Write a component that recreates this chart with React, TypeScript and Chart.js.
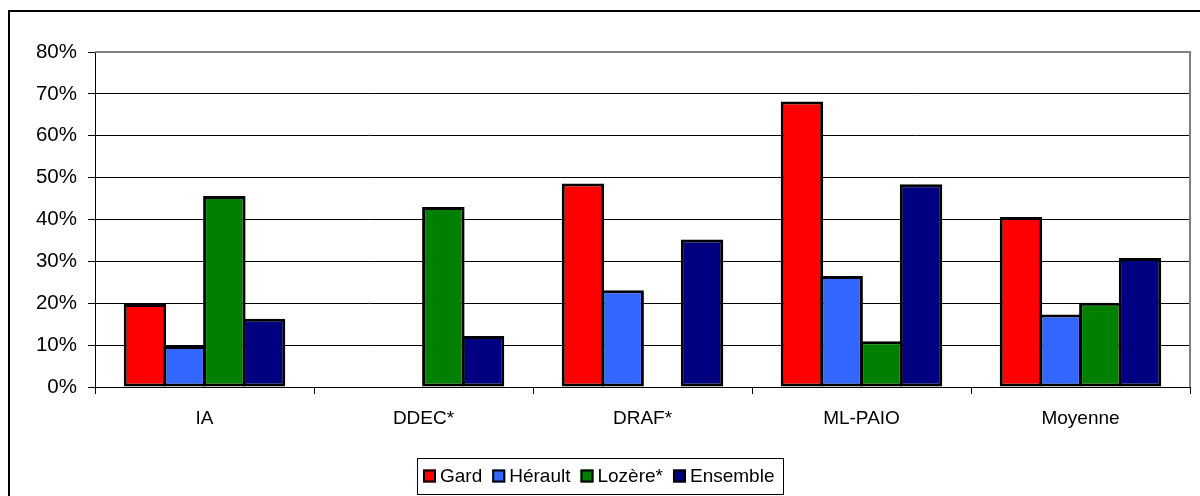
import React, { useEffect, useRef } from "react";
import { Chart, registerables } from "chart.js";

Chart.register(...registerables);

const categories = ["IA", "DDEC*", "DRAF*", "ML-PAIO", "Moyenne"];
const seriesNames = ["Gard", "Hérault", "Lozère*", "Ensemble"];
const gard = [19.8, null, 48.6, 68.2, 40.6];
const herault = [9.8, null, 23.1, 26.5, 17.3];
const lozere = [45.6, 43.0, null, 10.9, 20.1];
const ensemble = [16.3, 12.2, 35.2, 48.4, 30.8];
const seriesColors = ["#FF0000", "#3366FF", "#008000", "#000080"];
const yTicks = [0, 10, 20, 30, 40, 50, 60, 70, 80];

const FONT = '"Liberation Sans", Arial, sans-serif';

const framePlugin = {
  id: "frame",
  beforeDraw(chart: any) {
    const ctx = chart.ctx;
    ctx.save();
    ctx.fillStyle = "#fff";
    ctx.fillRect(0, 0, chart.width, chart.height);
    ctx.strokeStyle = "#000";
    ctx.lineWidth = 2;
    ctx.strokeRect(9, 11, 3000, 3000);
    ctx.restore();
  },
  afterDraw(chart: any) {
    const ctx = chart.ctx;
    const a = chart.chartArea;
    ctx.save();
    ctx.strokeStyle = "#808080";
    ctx.lineWidth = 2;
    ctx.beginPath();
    ctx.moveTo(a.left, a.top);
    ctx.lineTo(a.right, a.top);
    ctx.lineTo(a.right, a.bottom);
    ctx.stroke();

    ctx.font = `19px ${FONT}`;
    const sw = 13, gap = 4, itemGap = 10, padL = 6, padR = 9;
    const widths = seriesNames.map((n) => ctx.measureText(n).width);
    let total = padL + padR + itemGap * (seriesNames.length - 1);
    widths.forEach((w) => (total += sw + gap + w));
    const top = 458, h = 36;
    const left = Math.round(chart.width / 2 - total / 2);
    ctx.strokeStyle = "#000";
    ctx.lineWidth = 1;
    ctx.strokeRect(left + 0.5, top + 0.5, Math.round(total), h);
    let x = left + padL;
    const cy = top + h / 2;
    ctx.textBaseline = "middle";
    ctx.textAlign = "left";
    seriesNames.forEach((n, i) => {
      ctx.fillStyle = seriesColors[i];
      ctx.fillRect(x, cy - 6.5, sw, sw);
      ctx.strokeStyle = "#000";
      ctx.lineWidth = 2;
      ctx.strokeRect(x + 1, cy - 5.5, sw - 2, sw - 2);
      ctx.fillStyle = "#000";
      ctx.fillText(n, x + sw + gap, cy + 1);
      x += sw + gap + widths[i] + itemGap;
    });
    ctx.restore();
  },
};

export default function App() {
  const ref = useRef<HTMLCanvasElement>(null);
  useEffect(() => {
    if (!ref.current) return;
    const data = [gard, herault, lozere, ensemble];
    const chart = new Chart(ref.current, {
      type: "bar",
      data: {
        labels: categories,
        datasets: seriesNames.map((name, i) => ({
          label: name,
          data: data[i] as any,
          backgroundColor: seriesColors[i],
          borderColor: "#000",
          borderWidth: 3,
          borderSkipped: false,
          categoryPercentage: 0.725,
          barPercentage: 1.07,
        })),
      },
      options: {
        responsive: false,
        animation: false,
        devicePixelRatio: 1,
        layout: { padding: { top: 52, right: 10, left: 0, bottom: 0 } },
        plugins: {
          legend: { display: false },
          tooltip: { enabled: false },
        },
        scales: {
          x: {
            afterFit: (s: any) => {
              s.height = 109;
            },
            grid: {
              display: true,
              drawOnChartArea: false,
              drawTicks: true,
              tickLength: 7,
              offset: true,
              color: "#000",
            },
            border: { display: true, color: "#000", width: 1 },
            ticks: {
              color: "#000",
              font: { family: FONT, size: 19 },
              padding: 13,
              maxRotation: 0,
            },
          },
          y: {
            min: 0,
            max: 80,
            afterFit: (s: any) => {
              s.width = 95;
            },
            afterBuildTicks: (s: any) => {
              s.ticks = yTicks.map((v) => ({ value: v }));
            },
            grid: {
              color: "#000",
              lineWidth: 1,
              tickLength: 7,
              drawTicks: true,
            },
            border: { display: true, color: "#000", width: 1 },
            ticks: {
              color: "#000",
              font: { family: FONT, size: 20.5 },
              padding: 11,
              callback: (v: any) => v + "%",
            },
          },
        },
      },
      plugins: [framePlugin],
    });
    return () => chart.destroy();
  }, []);
  return (
    <div style={{ position: "absolute", left: 0, top: 0, width: 1200, height: 496 }}>
      <canvas ref={ref} width={1200} height={496} style={{ display: "block" }} />
    </div>
  );
}
